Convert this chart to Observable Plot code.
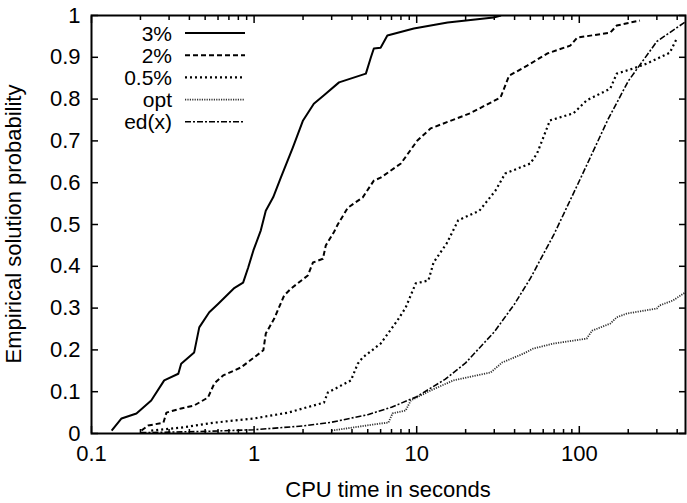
<!DOCTYPE html>
<html><head><meta charset="utf-8">
<script src="https://cdn.jsdelivr.net/npm/d3@7"></script>
<script src="https://cdn.jsdelivr.net/npm/@observablehq/plot@0.6"></script>
<style>
body{margin:0;background:#fff;}
#chart svg{font-family:"Liberation Sans",Arial,sans-serif;}
</style>
</head><body><div id="chart"></div>
<script>
const seriesNames = ["3%", "2%", "0.5%", "opt", "ed(x)"];

const x3 = [0.133,0.153,0.189,0.233,0.28,0.342,0.356,0.428,0.46,0.53,0.6,0.75,0.856,0.92,0.99,1.1,1.18,1.31,1.46,1.73,2.0,2.33,2.69,3.33,4.87,5.23,5.45,6.0,6.6,9.6,15.5,29.7,33];
const y3 = [0.007,0.036,0.048,0.079,0.127,0.143,0.167,0.194,0.254,0.29,0.31,0.347,0.361,0.397,0.438,0.486,0.533,0.565,0.612,0.684,0.749,0.789,0.809,0.84,0.861,0.9,0.921,0.923,0.952,0.969,0.983,0.995,1.0];

const x2 = [0.203,0.223,0.277,0.289,0.356,0.428,0.52,0.57,0.645,0.83,1.0,1.14,1.18,1.33,1.53,1.69,2.14,2.3,2.65,2.76,3.1,3.27,3.77,4.66,5.45,6.0,8.0,10.1,12.2,21.3,32.8,37,47.8,63.5,88,97,155,170,236];
const y2 = [0.007,0.019,0.026,0.05,0.06,0.067,0.086,0.12,0.139,0.158,0.182,0.199,0.239,0.275,0.33,0.347,0.378,0.409,0.418,0.45,0.482,0.5,0.54,0.565,0.605,0.612,0.646,0.701,0.73,0.766,0.804,0.856,0.88,0.909,0.928,0.947,0.959,0.976,0.988];

const x05 = [0.233,0.356,0.57,1.0,1.62,2.69,2.84,3.94,4.34,4.66,6.0,7.6,8.55,9.86,11.8,12.7,15.3,18,24.3,30.5,35,50,55,66,92,111,155,170,214,260,360,400];
const y05 = [0.007,0.014,0.026,0.036,0.05,0.074,0.098,0.127,0.167,0.182,0.215,0.27,0.301,0.359,0.366,0.409,0.455,0.51,0.533,0.581,0.622,0.646,0.67,0.749,0.766,0.797,0.825,0.861,0.873,0.885,0.911,0.947];

const xOpt = [3.0,6.0,6.7,7.1,8.55,9.2,12.2,16.8,28.5,33.6,45.3,52,69,111,120,155,170,196,300,310,376,450];
const yOpt = [0.007,0.024,0.026,0.048,0.055,0.079,0.103,0.127,0.146,0.17,0.191,0.203,0.215,0.227,0.246,0.263,0.278,0.287,0.299,0.306,0.318,0.338];

const xEd = [0.2,0.5,1,2,3,5,7,10,15,20,30,40,50,70,100,150,200,300,450];
const yEd = [0.002,0.005,0.009,0.018,0.027,0.045,0.063,0.088,0.13,0.169,0.243,0.31,0.371,0.477,0.604,0.751,0.843,0.938,0.985];

const xMajor = [0.1, 1, 10, 100];
const xMinor = [0.2,0.3,0.4,0.5,0.6,0.7,0.8,0.9,2,3,4,5,6,7,8,9,20,30,40,50,60,70,80,90,200,300,400];
const yTicks = [0,0.1,0.2,0.3,0.4,0.5,0.6,0.7,0.8,0.9,1];

const styles = {
  "3%":   {dash: "none", width: 2, color: "#000"},
  "2%":   {dash: "5,3", width: 2, color: "#000"},
  "0.5%": {dash: "2,3", width: 2.2, color: "#000"},
  "opt":  {dash: "1.2,1.2", width: 1.8, color: "#333"},
  "ed(x)":{dash: "6,2,2,2", width: 1.6, color: "#000"}
};

const xsAll = [x3, x2, x05, xOpt, xEd];
const ysAll = [y3, y2, y05, yOpt, yEd];
const data = [];
seriesNames.forEach((s, i) => xsAll[i].forEach((x, j) => data.push({series: s, x, y: ysAll[i][j]})));

const W = 687, H = 503, mL = 91, mR = 2, mT = 15, mB = 70;
const fmtY = d => String(d);
const fmtX = d => String(d);

const lineMarks = seriesNames.map(s => Plot.line(data.filter(d => d.series === s), {
  x: "x", y: "y", stroke: styles[s].color, strokeWidth: styles[s].width,
  strokeDasharray: styles[s].dash, strokeLinecap: "butt", clip: true,
  className: "ser" + seriesNames.indexOf(s)
}));

const plot = Plot.plot({
  width: W, height: H,
  marginLeft: mL, marginRight: mR, marginTop: mT, marginBottom: mB,
  style: {fontSize: "22px", fontFamily: "'Liberation Sans', Arial, sans-serif", color: "#000", background: "#fff"},
  x: {type: "log", domain: [0.1, 450]},
  y: {domain: [0, 1]},
  marks: [
    ...lineMarks,
    Plot.axisX(xMajor, {anchor: "bottom", tickSize: 0, tickPadding: 12, tickFormat: fmtX, label: null}),
    Plot.axisX(xMajor, {anchor: "bottom", tickSize: -7, text: null, strokeWidth: 1.5, label: null}),
    Plot.axisX(xMajor, {anchor: "top", tickSize: -7, text: null, strokeWidth: 1.5, label: null}),
    Plot.axisX(xMinor, {anchor: "bottom", tickSize: -4, text: null, strokeWidth: 1.5, label: null}),
    Plot.axisX(xMinor, {anchor: "top", tickSize: -4, text: null, strokeWidth: 1.5, label: null}),
    Plot.axisY(yTicks, {anchor: "left", tickSize: 0, tickPadding: 11, tickFormat: fmtY, label: null}),
    Plot.axisY(yTicks, {anchor: "left", tickSize: -7, text: null, strokeWidth: 1.5, label: null}),
    Plot.axisY(yTicks, {anchor: "right", tickSize: -7, text: null, strokeWidth: 1.5, label: null}),
    Plot.frame({stroke: "#000", strokeWidth: 2})
  ]
});

const svg = d3.select(plot);
// make sure dash patterns land on the line paths themselves
seriesNames.forEach((s, i) => {
  svg.selectAll(`.ser${i} path, g.ser${i} path`).attr("stroke-dasharray", styles[s].dash);
});

// axis titles
svg.append("text").attr("x", mL + (W - mL - mR) / 2).attr("y", 497)
  .attr("text-anchor", "middle").attr("font-size", 22).attr("fill", "#000").text("CPU time in seconds");
svg.append("text").attr("transform", `translate(21,${mT + (H - mT - mB) / 2}) rotate(-90)`)
  .attr("text-anchor", "middle").attr("font-size", 22).attr("fill", "#000").text("Empirical solution probability");

// legend
const lg = svg.append("g");
seriesNames.forEach((s, i) => {
  const cy = 33 + i * 22.2;
  lg.append("text").attr("x", 172).attr("y", cy).attr("dy", "0.36em").attr("text-anchor", "end")
    .attr("font-size", 21).attr("fill", "#000").text(s);
  lg.append("line").attr("x1", 185).attr("x2", 245).attr("y1", cy).attr("y2", cy)
    .attr("stroke", styles[s].color).attr("stroke-width", styles[s].width)
    .attr("stroke-dasharray", styles[s].dash);
});

document.getElementById("chart").appendChild(plot);
</script>
</body></html>
